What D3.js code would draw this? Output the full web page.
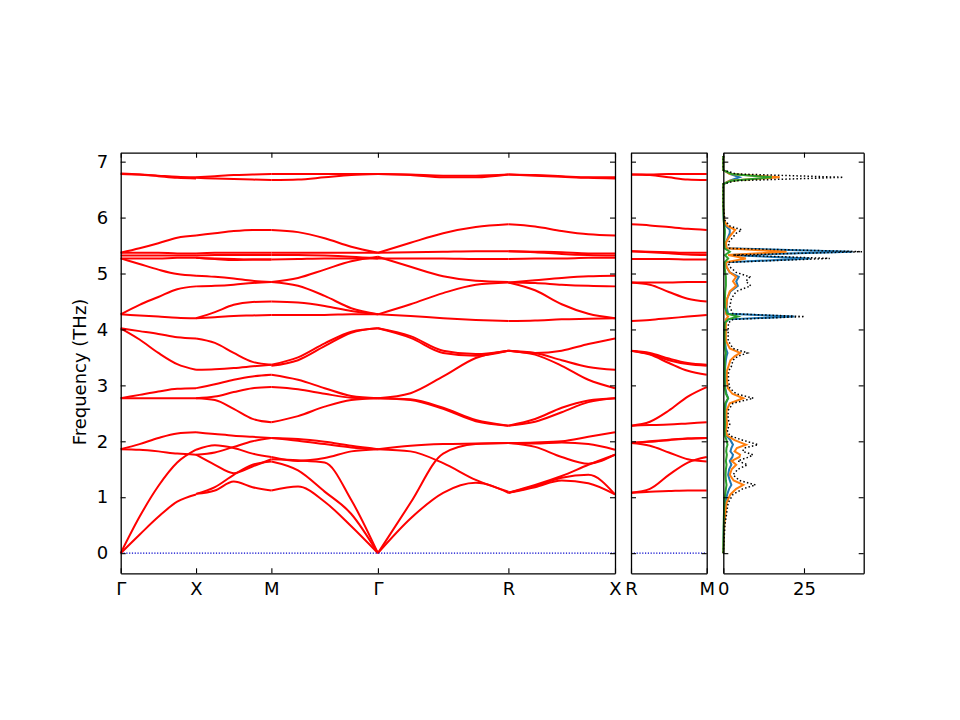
<!DOCTYPE html>
<html>
<head>
<meta charset="utf-8">
<script src="https://cdn.jsdelivr.net/npm/d3@7"></script>
<style>
  body { margin: 0; background: #fff; }
  svg { display: block; font-family: "DejaVu Sans", sans-serif; }
</style>
</head>
<body>
<svg id="chart" width="960" height="720"></svg>
<script>
// k-path: high symmetry points and their cumulative distance
const pathLabels = ["Γ", "X", "M", "Γ", "R", "X"];
const pathTicks = [0, 1, 2, 3.414, 5.146, 6.561];
const sideLabels = ["R", "M"];
const sideTicks = [0, 1];
const freqTicks = [0, 1, 2, 3, 4, 5, 6, 7];
const dosTicks = [0, 25];

// fractional positions along each segment where band values are read
const segT = [0, 0.25, 0.5, 0.75, 1];

// band frequencies (THz) per segment, one row per band
const bandsGX = [
    [6.78, 6.77, 6.75, 6.73, 6.72],
    [6.79, 6.77, 6.74, 6.71, 6.70],
    [5.37, 5.45, 5.54, 5.64, 5.68],
    [5.37, 5.37, 5.37, 5.36, 5.36],
    [5.32, 5.32, 5.32, 5.32, 5.32],
    [5.27, 5.27, 5.27, 5.28, 5.28],
    [5.27, 5.17, 5.07, 4.99, 4.96],
    [4.27, 4.44, 4.58, 4.72, 4.77],
    [4.27, 4.25, 4.23, 4.21, 4.20],
    [4.02, 3.97, 3.92, 3.86, 3.84],
    [4.02, 3.82, 3.58, 3.38, 3.28],
    [2.77, 2.83, 2.89, 2.94, 2.95],
    [2.77, 2.77, 2.77, 2.77, 2.77],
    [1.86, 1.95, 2.06, 2.14, 2.16],
    [1.86, 1.85, 1.82, 1.78, 1.76],
    [0, 0.65, 1.20, 1.62, 1.85],
    [0, 0.33, 0.65, 0.92, 1.05]
];
const bandsXM = [
    [6.72, 6.74, 6.76, 6.77, 6.78],
    [6.71, 6.70, 6.69, 6.68, 6.67],
    [5.68, 5.72, 5.76, 5.78, 5.78],
    [5.36, 5.37, 5.37, 5.37, 5.37],
    [5.32, 5.33, 5.33, 5.33, 5.33],
    [5.28, 5.27, 5.26, 5.25, 5.25],
    [5.28, 5.26, 5.24, 5.25, 5.25],
    [4.96, 4.94, 4.91, 4.87, 4.85],
    [4.77, 4.78, 4.80, 4.83, 4.85],
    [4.20, 4.31, 4.44, 4.49, 4.50],
    [4.20, 4.22, 4.24, 4.25, 4.26],
    [3.84, 3.76, 3.58, 3.42, 3.37],
    [3.28, 3.29, 3.31, 3.34, 3.37],
    [2.95, 3.02, 3.10, 3.16, 3.19],
    [2.77, 2.80, 2.88, 2.95, 2.97],
    [2.77, 2.74, 2.58, 2.40, 2.34],
    [2.16, 2.13, 2.10, 2.08, 2.06],
    [1.76, 1.80, 1.90, 2.00, 2.06],
    [1.85, 1.93, 1.88, 1.78, 1.72],
    [1.76, 1.58, 1.43, 1.55, 1.68],
    [1.06, 1.18, 1.40, 1.58, 1.64],
    [1.06, 1.12, 1.28, 1.18, 1.12]
];
const bandsMG = [
    [6.78, 6.78, 6.78, 6.78, 6.78],
    [6.67, 6.68, 6.72, 6.76, 6.78],
    [5.78, 5.74, 5.63, 5.48, 5.37],
    [5.37, 5.37, 5.37, 5.37, 5.37],
    [5.33, 5.33, 5.32, 5.30, 5.27],
    [5.25, 5.26, 5.27, 5.27, 5.27],
    [4.85, 4.92, 5.07, 5.22, 5.30],
    [4.85, 4.78, 4.60, 4.38, 4.27],
    [4.50, 4.48, 4.42, 4.33, 4.27],
    [4.26, 4.26, 4.26, 4.27, 4.27],
    [3.37, 3.50, 3.75, 3.96, 4.02],
    [3.35, 3.45, 3.70, 3.94, 4.02],
    [3.19, 3.10, 2.95, 2.81, 2.77],
    [2.97, 2.93, 2.85, 2.78, 2.77],
    [2.34, 2.45, 2.62, 2.74, 2.77],
    [2.06, 2.04, 1.99, 1.92, 1.86],
    [2.06, 2.01, 1.95, 1.89, 1.86],
    [1.72, 1.65, 1.70, 1.82, 1.86],
    [1.68, 1.66, 1.62, 0.95, 0],
    [1.64, 1.48, 1.10, 0.70, 0],
    [1.12, 1.19, 0.92, 0.48, 0]
];
const bandsGR = [
    [6.78, 6.76, 6.72, 6.72, 6.77],
    [6.78, 6.77, 6.75, 6.75, 6.77],
    [5.37, 5.55, 5.72, 5.83, 5.88],
    [5.37, 5.38, 5.39, 5.40, 5.40],
    [5.27, 5.27, 5.27, 5.26, 5.26],
    [5.30, 5.12, 4.95, 4.87, 4.85],
    [4.27, 4.45, 4.65, 4.80, 4.84],
    [4.27, 4.24, 4.20, 4.17, 4.15],
    [4.02, 3.85, 3.58, 3.53, 3.62],
    [4.02, 3.88, 3.62, 3.56, 3.62],
    [2.77, 2.86, 3.16, 3.49, 3.62],
    [2.77, 2.75, 2.60, 2.38, 2.28],
    [2.77, 2.74, 2.58, 2.36, 2.28],
    [1.86, 1.92, 1.95, 1.96, 1.97],
    [1.86, 1.82, 1.61, 1.31, 1.10],
    [0, 0.90, 1.78, 1.95, 1.97],
    [0, 0.62, 1.08, 1.26, 1.08]
];
const bandsRX = [
    [6.77, 6.76, 6.74, 6.72, 6.72],
    [6.77, 6.75, 6.73, 6.71, 6.70],
    [5.88, 5.84, 5.76, 5.70, 5.68],
    [5.40, 5.39, 5.38, 5.36, 5.36],
    [5.40, 5.38, 5.35, 5.33, 5.32],
    [5.26, 5.27, 5.27, 5.28, 5.28],
    [4.84, 4.88, 4.92, 4.95, 4.96],
    [4.84, 4.83, 4.80, 4.78, 4.77],
    [4.84, 4.70, 4.45, 4.28, 4.20],
    [4.15, 4.16, 4.18, 4.19, 4.20],
    [3.62, 3.58, 3.62, 3.74, 3.84],
    [3.62, 3.58, 3.45, 3.33, 3.28],
    [3.62, 3.55, 3.35, 3.10, 2.95],
    [2.28, 2.40, 2.60, 2.73, 2.77],
    [2.28, 2.35, 2.52, 2.70, 2.77],
    [1.97, 1.98, 2.00, 2.08, 2.16],
    [1.97, 1.96, 1.98, 1.95, 1.85],
    [1.97, 1.90, 1.72, 1.60, 1.76],
    [1.08, 1.22, 1.38, 1.58, 1.76],
    [1.08, 1.20, 1.35, 1.40, 1.05],
    [1.08, 1.18, 1.30, 1.25, 1.05]
];
const bandsRM = [
    [6.77, 6.77, 6.78, 6.78, 6.78],
    [6.77, 6.76, 6.72, 6.68, 6.67],
    [5.88, 5.86, 5.83, 5.80, 5.78],
    [5.40, 5.39, 5.38, 5.37, 5.37],
    [5.40, 5.38, 5.36, 5.34, 5.33],
    [5.26, 5.26, 5.26, 5.25, 5.25],
    [4.84, 4.84, 4.84, 4.85, 4.85],
    [4.84, 4.80, 4.67, 4.55, 4.50],
    [4.15, 4.17, 4.20, 4.23, 4.26],
    [3.62, 3.58, 3.48, 3.40, 3.37],
    [3.62, 3.56, 3.45, 3.38, 3.35],
    [3.62, 3.55, 3.40, 3.26, 3.19],
    [2.28, 2.35, 2.55, 2.80, 2.97],
    [2.28, 2.29, 2.30, 2.32, 2.34],
    [1.97, 2.00, 2.03, 2.05, 2.06],
    [1.97, 1.99, 2.02, 2.05, 2.06],
    [1.97, 1.92, 1.80, 1.68, 1.64],
    [1.08, 1.15, 1.40, 1.62, 1.72],
    [1.08, 1.10, 1.11, 1.12, 1.12]
];
const mainSegments = [bandsGX, bandsXM, bandsMG, bandsGR, bandsRX];
const sideSegments = [bandsRM];

// phonon DOS, sampled at dosFreq (THz)
const dosFreq = [0, 0.5, 0.9, 1.05, 1.15, 1.22, 1.3, 1.4, 1.5, 1.58, 1.65, 1.72, 1.76, 1.82, 1.88, 1.94, 2.02, 2.1, 2.2, 2.3, 2.4, 2.55, 2.68, 2.77, 2.85, 2.95, 3.1, 3.25, 3.34, 3.45, 3.52, 3.58, 3.66, 3.8, 4.0, 4.12, 4.18, 4.23, 4.28, 4.4, 4.55, 4.68, 4.78, 4.86, 4.94, 5.02, 5.12, 5.2, 5.27, 5.33, 5.39, 5.45, 5.55, 5.65, 5.72, 5.78, 5.85, 5.95, 6.2, 6.6, 6.66, 6.72, 6.78, 6.85, 7.1];
const dosTotal = [0, 0.5, 1.5, 3, 6, 10, 5, 3, 4.5, 7.5, 4.5, 8, 9.2, 6, 6.5, 10.8, 6, 2, 1.2, 2, 1.5, 1.5, 3, 9.3, 4, 2, 1.6, 1.6, 2.5, 3, 4.5, 7.5, 3, 1.5, 1.5, 1.6, 3, 25.2, 3, 2, 2.5, 4, 8.5, 7, 8.2, 4, 2, 1.5, 33, 3, 43, 2, 1.5, 3, 4, 5.7, 2, 0.5, 0, 0, 4, 37.2, 4, 0, 0];
const dosBlue = [0, 0.2, 0.6, 1.2, 1.8, 2.5, 2, 1.5, 1.8, 2.5, 2, 2.8, 3, 2.2, 2.5, 3, 2.2, 1, 0.6, 0.8, 0.6, 0.6, 0.8, 1.5, 1, 0.6, 0.5, 0.5, 0.6, 0.8, 1, 1.3, 0.8, 0.5, 0.5, 0.6, 1.5, 22, 1.5, 1, 1.2, 2.2, 4.5, 4, 4.8, 2, 1, 0.8, 27, 1.5, 40, 1, 0.8, 1.5, 2, 2, 0.8, 0.2, 0, 0, 2, 5, 2, 0, 0];
const dosOrange = [0, 0.3, 1.0, 2.2, 4, 6.2, 3.2, 2, 2.6, 4, 2.6, 5, 5.2, 3.5, 4.2, 7, 3.5, 1.2, 0.8, 1.2, 1, 1, 2, 6.2, 2.8, 1.4, 1.1, 1.1, 1.6, 2.2, 3.5, 5.2, 2, 0.8, 0.8, 0.8, 0.8, 1.5, 0.8, 0.9, 1.2, 2, 4, 3, 4, 2, 1, 0.8, 7, 1.5, 19.6, 1, 0.8, 1.8, 2.8, 3.7, 1.2, 0.3, 0, 0, 2, 17.5, 2, 0, 0];
const dosGreen = [0, 0.1, 0.3, 0.6, 0.8, 1.0, 0.8, 0.7, 0.8, 1.0, 0.8, 1.0, 1.1, 0.9, 1, 1.3, 1, 0.5, 0.4, 0.5, 0.4, 0.4, 0.6, 1.5, 0.8, 0.5, 0.4, 0.4, 0.5, 0.5, 0.6, 0.8, 0.5, 0.4, 0.4, 0.5, 1.5, 4.5, 1.2, 0.5, 0.5, 0.6, 0.8, 0.8, 0.8, 0.6, 0.4, 0.4, 1.5, 0.5, 2, 0.4, 0.3, 0.4, 0.5, 0.5, 0.3, 0.1, 0, 0, 2.5, 15, 2.5, 0, 0];

class BandFigure {
    constructor() {
        this.svg = d3.select("#chart");
        this.y = d3.scaleLinear().domain([-0.36, 7.16]).range([573.3, 152.7]);
        this.fontSize = 18;

        const xMain = d3.scaleLinear().domain([0, pathTicks[pathTicks.length - 1]]).range([120.7, 615]);
        const xSide = d3.scaleLinear().domain([0, 1]).range([631, 706.7]);
        const xDos = d3.scaleLinear().domain([0, 43.5]).range([723.3, 863.7]);

        this.drawBands(xMain, pathTicks, mainSegments);
        this.drawBands(xSide, sideTicks, sideSegments);
        this.drawDos(xDos);

        this.drawFrame(xMain, pathTicks, (d, i) => pathLabels[i], true);
        this.drawFrame(xSide, sideTicks, (d, i) => sideLabels[i], false);
        this.drawFrame(xDos, dosTicks, d3.format("d"), false);

        this.svg.append("text")
            .attr("transform", "translate(86,372) rotate(-90)")
            .attr("text-anchor", "middle")
            .attr("font-size", this.fontSize)
            .text("Frequency (THz)");
    }

    drawBands(x, ticks, segments) {
        const y = this.y;
        const line = d3.line()
            .x(d => x(d[0]))
            .y(d => y(d[1]))
            .curve(d3.curveMonotoneX);

        const g = this.svg.append("g");
        segments.forEach((bands, s) => {
            const k0 = ticks[s], k1 = ticks[s + 1];
            g.selectAll(null)
                .data(bands)
                .join("path")
                .attr("d", b => line(b.map((f, j) => [k0 + segT[j] * (k1 - k0), f])))
                .attr("fill", "none")
                .attr("stroke", "#ff0000")
                .attr("stroke-width", 2);
        });

        // zero frequency reference
        g.append("line")
            .attr("x1", x.range()[0]).attr("x2", x.range()[1])
            .attr("y1", y(0)).attr("y2", y(0))
            .attr("stroke", "#0000cc")
            .attr("stroke-width", 1.2)
            .attr("stroke-dasharray", "1.2,1.6");
    }

    drawDos(x) {
        const y = this.y;
        const series = [
            {values: dosBlue, color: "#1f77b4", dash: null, width: 2},
            {values: dosOrange, color: "#ff7f0e", dash: null, width: 2},
            {values: dosGreen, color: "#2ca02c", dash: null, width: 2},
            {values: dosTotal, color: "#000", dash: "1.5,2.2", width: 1.5}
        ];
        const line = d3.line()
            .x(d => x(d[1]))
            .y(d => y(d[0]));

        this.svg.append("g")
            .selectAll("path")
            .data(series)
            .join("path")
            .attr("d", s => line(dosFreq.map((f, i) => [f, s.values[i]])))
            .attr("fill", "none")
            .attr("stroke", s => s.color)
            .attr("stroke-width", s => s.width)
            .attr("stroke-dasharray", s => s.dash);
    }

    drawFrame(x, xTicks, xFormat, yLabels) {
        const y = this.y;
        const [x0, x1] = x.range();
        const [yb, yt] = y.range();
        const none = () => "";
        const axes = [
            [d3.axisLeft(y).tickValues(freqTicks).tickFormat(yLabels ? d3.format("d") : none).tickPadding(12.5), `translate(${x0},0)`],
            [d3.axisRight(y).tickValues(freqTicks).tickFormat(none), `translate(${x1},0)`],
            [d3.axisBottom(x).tickValues(xTicks).tickFormat(xFormat).tickPadding(8.5), `translate(0,${yb})`],
            [d3.axisTop(x).tickValues(xTicks).tickFormat(none), `translate(0,${yt})`]
        ];
        axes.forEach(([axis, tr]) => {
            const g = this.svg.append("g")
                .attr("transform", tr)
                .call(axis.tickSizeInner(-5).tickSizeOuter(0));
            g.attr("font-size", this.fontSize).attr("font-family", null);
            g.select(".domain").attr("stroke", "#000").attr("stroke-width", 1.3);
            g.selectAll(".tick line").attr("stroke", "#000").attr("stroke-width", 1.1);
            g.selectAll(".tick text").attr("fill", "#000");
        });
    }
}

new BandFigure();
</script>
</body>
</html>
